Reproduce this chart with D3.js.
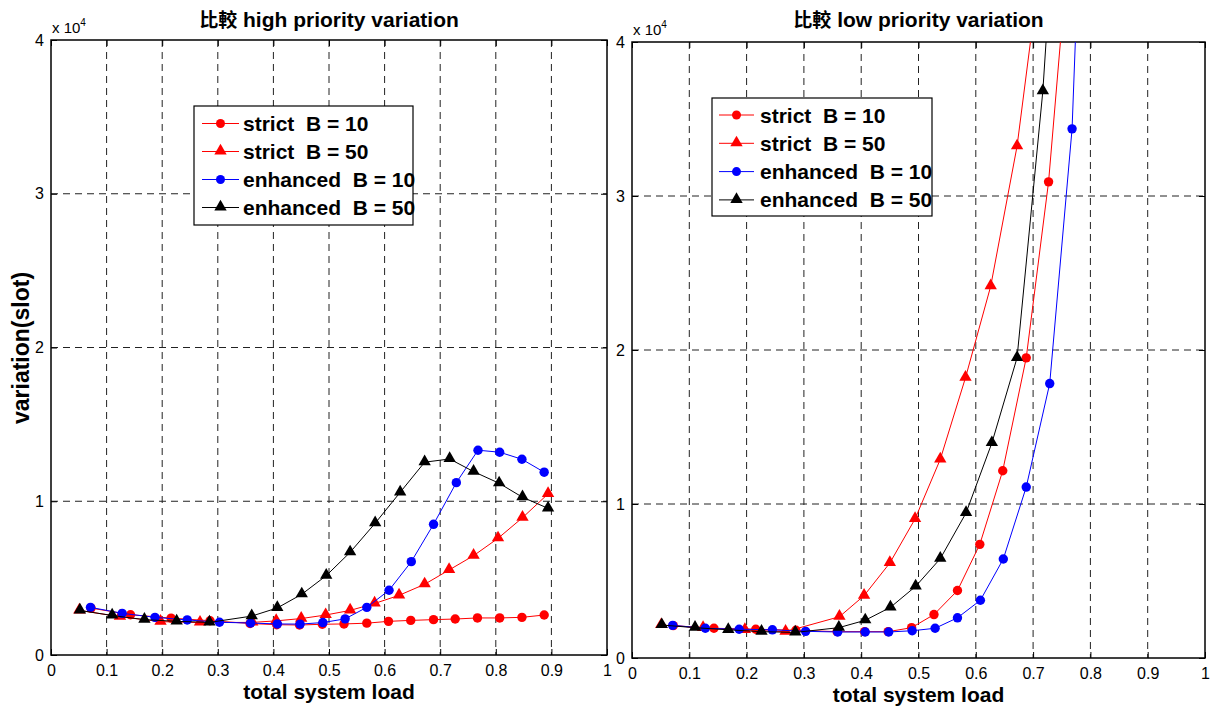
<!DOCTYPE html>
<html>
<head>
<meta charset="utf-8">
<script src="https://cdn.jsdelivr.net/npm/d3@7"></script>
<style>
  body { margin: 0; background: #fff; }
  svg { display: block; font-family: "Liberation Sans", Arial, sans-serif; }
</style>
</head>
<body>
<svg id="chart" width="1216" height="709"></svg>
<script>
// Total system load at which each scheme was simulated
const loadStrict10   = [0.072, 0.143, 0.216, 0.286, 0.358, 0.406, 0.447, 0.488, 0.527, 0.568, 0.607, 0.647, 0.688, 0.727, 0.767, 0.807, 0.847, 0.887];
const loadStrict50   = [0.051, 0.124, 0.197, 0.268, 0.362, 0.405, 0.450, 0.494, 0.538, 0.582, 0.626, 0.672, 0.716, 0.760, 0.804, 0.848, 0.894];
const loadEnhanced10 = [0.071, 0.128, 0.187, 0.245, 0.303, 0.359, 0.407, 0.448, 0.489, 0.529, 0.568, 0.608, 0.648, 0.688, 0.729, 0.768, 0.807, 0.847, 0.887];
const loadEnhanced50 = [0.052, 0.110, 0.168, 0.226, 0.285, 0.361, 0.407, 0.451, 0.495, 0.538, 0.583, 0.628, 0.672, 0.717, 0.760, 0.806, 0.848, 0.894];

// High priority variation (slot), in units of 1e4
const highStrict10   = [0.305, 0.262, 0.240, 0.223, 0.205, 0.197, 0.195, 0.200, 0.202, 0.207, 0.219, 0.225, 0.230, 0.234, 0.241, 0.241, 0.245, 0.260];
const highStrict50   = [0.290, 0.249, 0.217, 0.211, 0.212, 0.222, 0.237, 0.260, 0.290, 0.335, 0.388, 0.460, 0.553, 0.646, 0.759, 0.893, 1.048];
const highEnhanced10 = [0.310, 0.271, 0.245, 0.228, 0.213, 0.208, 0.202, 0.201, 0.211, 0.235, 0.310, 0.421, 0.607, 0.850, 1.121, 1.332, 1.319, 1.273, 1.189];
const highEnhanced50 = [0.290, 0.257, 0.230, 0.219, 0.212, 0.253, 0.306, 0.395, 0.516, 0.668, 0.857, 1.058, 1.254, 1.275, 1.193, 1.117, 1.026, 0.954];

// Low priority variation (slot), in units of 1e4 (curves leave the plot above 4e4)
const lowStrict10   = [0.210, 0.193, 0.187, 0.180, 0.171, 0.171, 0.171, 0.197, 0.282, 0.438, 0.738, 1.216, 1.949, 3.092, 4.85];
const lowStrict50   = [0.214, 0.196, 0.182, 0.171, 0.268, 0.405, 0.617, 0.903, 1.290, 1.820, 2.414, 3.323, 4.60];
const lowEnhanced10 = [0.212, 0.193, 0.187, 0.183, 0.173, 0.169, 0.169, 0.169, 0.177, 0.193, 0.261, 0.375, 0.643, 1.110, 1.782, 3.436, 7.30];
const lowEnhanced50 = [0.214, 0.197, 0.183, 0.171, 0.166, 0.197, 0.245, 0.329, 0.465, 0.645, 0.942, 1.396, 1.949, 3.681, 6.14];

const xTicks = [0, 0.1, 0.2, 0.3, 0.4, 0.5, 0.6, 0.7, 0.8, 0.9, 1];
const yTicks = [0, 1, 2, 3, 4];
const seriesNames = ["strict  B = 10", "strict  B = 50", "enhanced  B = 10", "enhanced  B = 50"];
const seriesColors = ["#ff0000", "#ff0000", "#0000ff", "#000000"];
const seriesMarkers = ["circle", "triangle", "circle", "triangle"];

const svg = d3.select("#chart");

function drawPanel(cfg) {
  const { left, right, top, bottom, title, loads, values, legend, id } = cfg;
  const x = d3.scaleLinear().domain([0, 1]).range([left, right]);
  const y = d3.scaleLinear().domain([0, 4]).range([bottom, top]);
  const g = svg.append("g");

  g.append("defs").append("clipPath").attr("id", id)
    .append("rect").attr("x", left).attr("y", top).attr("width", right - left).attr("height", bottom - top);

  // dashed grid
  g.append("g").selectAll("line").data(xTicks.filter(t => t > 0 && t < 1)).join("line")
    .attr("x1", d => x(d)).attr("x2", d => x(d)).attr("y1", top).attr("y2", bottom)
    .attr("stroke", "#222").attr("stroke-width", 1).attr("stroke-dasharray", "7,5");
  g.append("g").selectAll("line").data(yTicks.filter(t => t > 0 && t < 4)).join("line")
    .attr("y1", d => y(d)).attr("y2", d => y(d)).attr("x1", left).attr("x2", right)
    .attr("stroke", "#222").attr("stroke-width", 1).attr("stroke-dasharray", "7,5");

  // axes with inward ticks on all four sides
  const tickLen = 6;
  const axB = g.append("g").attr("transform", `translate(0,${bottom})`)
    .call(d3.axisBottom(x).tickValues(xTicks).tickSizeInner(-tickLen).tickSizeOuter(0).tickPadding(10).tickFormat(d3.format("~g")));
  const axT = g.append("g").attr("transform", `translate(0,${top})`)
    .call(d3.axisTop(x).tickValues(xTicks).tickSizeInner(-tickLen).tickSizeOuter(0).tickFormat(""));
  const axL = g.append("g").attr("transform", `translate(${left},0)`)
    .call(d3.axisLeft(y).tickValues(yTicks).tickSizeInner(-tickLen).tickSizeOuter(0).tickPadding(7).tickFormat(d3.format("d")));
  const axR = g.append("g").attr("transform", `translate(${right},0)`)
    .call(d3.axisRight(y).tickValues(yTicks).tickSizeInner(-tickLen).tickSizeOuter(0).tickFormat(""));
  [axB, axT, axL, axR].forEach(a => {
    a.select(".domain").remove();
    a.selectAll("line").attr("stroke", "#000");
    a.selectAll("text").attr("font-size", 16).attr("fill", "#000").attr("font-family", "Liberation Sans, Arial, sans-serif");
  });

  // frame
  g.append("rect").attr("x", left).attr("y", top).attr("width", right - left).attr("height", bottom - top)
    .attr("fill", "none").attr("stroke", "#000").attr("stroke-width", 1.5);

  // exponent label
  const ex = g.append("text").attr("x", left + 1).attr("y", top - 7)
    .attr("font-size", 15).attr("fill", "#000");
  ex.append("tspan").text("x 10");
  ex.append("tspan").attr("dy", -7).attr("font-size", 10).text("4");

  // title
  const tt = g.append("text").attr("x", (left + right) / 2).attr("y", 27)
    .attr("text-anchor", "middle").attr("font-weight", "bold").attr("font-size", 21).attr("fill", "#000");
  tt.append("tspan").attr("font-family", "Noto Sans CJK TC").attr("font-size", 19).text(title[0]);
  tt.append("tspan").text(" " + title[1]);

  // x label
  g.append("text").attr("x", (left + right) / 2).attr("y", bottom + 44)
    .attr("text-anchor", "middle").attr("font-weight", "bold").attr("font-size", 21).attr("fill", "#000")
    .text("total system load");

  // series
  const plot = g.append("g").attr("clip-path", `url(#${id})`);
  const line = d3.line().x(d => x(d[0])).y(d => y(d[1]));
  const tri = d3.symbol().type(d3.symbolTriangle).size(66);
  values.forEach((vals, i) => {
    const pts = loads[i].slice(0, vals.length).map((l, k) => [l, vals[k]]);
    plot.append("path").datum(pts).attr("d", line)
      .attr("fill", "none").attr("stroke", seriesColors[i]).attr("stroke-width", 1);
    if (seriesMarkers[i] === "circle") {
      plot.append("g").selectAll("circle").data(pts).join("circle")
        .attr("cx", d => x(d[0])).attr("cy", d => y(d[1])).attr("r", 4.7).attr("fill", seriesColors[i]);
    } else {
      plot.append("g").selectAll("path").data(pts).join("path")
        .attr("d", tri).attr("transform", d => `translate(${x(d[0])},${y(d[1]) - 0.5})`).attr("fill", seriesColors[i]);
    }
  });

  // legend
  const lg = g.append("g");
  lg.append("rect").attr("x", legend.x).attr("y", legend.y).attr("width", legend.w).attr("height", legend.h)
    .attr("fill", "#fff").attr("stroke", "#000").attr("stroke-width", 1.2);
  seriesNames.forEach((name, i) => {
    const cy = legend.y + legend.first + i * legend.step;
    lg.append("line").attr("x1", legend.x + legend.lx1).attr("x2", legend.x + legend.lx2)
      .attr("y1", cy).attr("y2", cy).attr("stroke", seriesColors[i]).attr("stroke-width", 1);
    const mx = legend.x + (legend.lx1 + legend.lx2) / 2;
    if (seriesMarkers[i] === "circle") {
      lg.append("circle").attr("cx", mx).attr("cy", cy).attr("r", 4.5).attr("fill", seriesColors[i]);
    } else {
      lg.append("path").attr("d", tri).attr("transform", `translate(${mx},${cy - 0.5})`).attr("fill", seriesColors[i]);
    }
    lg.append("text").attr("x", legend.x + legend.tx).attr("y", cy + 7.5)
      .attr("font-weight", "bold").attr("font-size", 21).attr("fill", "#000")
      .attr("xml:space", "preserve").style("white-space", "pre").text(name);
  });
}

drawPanel({
  id: "clipHigh", left: 51, right: 607, top: 40, bottom: 655,
  title: ["比較", "high priority variation"],
  loads: [loadStrict10, loadStrict50, loadEnhanced10, loadEnhanced50],
  values: [highStrict10, highStrict50, highEnhanced10, highEnhanced50],
  legend: { x: 194, y: 106, w: 219, h: 119, first: 17.5, step: 28, lx1: 8, lx2: 45, tx: 49 }
});
drawPanel({
  id: "clipLow", left: 632, right: 1205, top: 42, bottom: 658,
  title: ["比較", "low priority variation"],
  loads: [loadStrict10, loadStrict50, loadEnhanced10, loadEnhanced50],
  values: [lowStrict10, lowStrict50, lowEnhanced10, lowEnhanced50],
  legend: { x: 712, y: 98, w: 220, h: 118, first: 17, step: 28.3, lx1: 7, lx2: 42, tx: 48 }
});

// shared y label
svg.append("text").attr("transform", "translate(29,348) rotate(-90)")
  .attr("text-anchor", "middle").attr("font-weight", "bold").attr("font-size", 23).attr("fill", "#000")
  .text("variation(slot)");
</script>
</body>
</html>
